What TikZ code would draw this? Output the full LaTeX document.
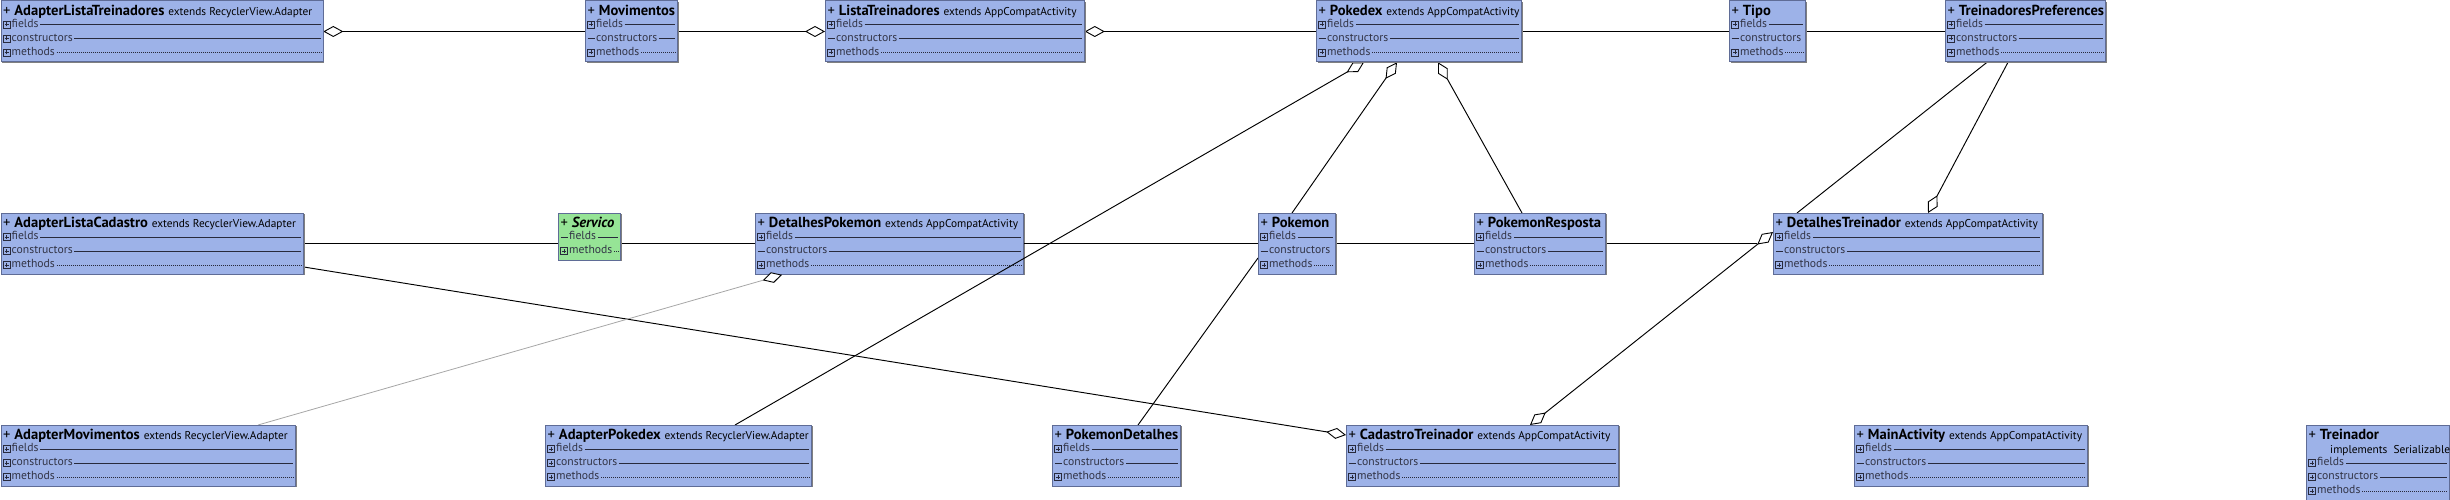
\documentclass[tikz,border=0pt]{standalone}
\usepackage{fontspec}
\setmainfont{PT Sans}
\usetikzlibrary{arrows.meta,calc}
\pgfdeclarelayer{bg}
\pgfdeclarelayer{fg}
\pgfsetlayers{bg,main,fg}
\definecolor{boxblue}{RGB}{157,178,232}
\definecolor{boxgreen}{RGB}{150,228,150}
\definecolor{boxedge}{RGB}{95,108,150}
\definecolor{rowtxt}{RGB}{50,52,70}
\definecolor{rowln}{RGB}{40,42,60}
\newlength\calw
% calibrate a font size so that a sample text gets a given width (px = pt)
\newcommand\calsize[4]{\setbox0=\hbox{#2\fontsize{10}{12}\selectfont #3}\calw=\wd0\relax\pgfmathsetmacro#1{10*#4/\calw}}
\newcommand\extf{\fontsize{\szE}{\szE}\selectfont}
\tikzset{
  classbox/.style={draw=boxedge, line width=0.8pt, inner sep=0pt, anchor=north west},
  shadowbox/.style={fill=black!50, inner sep=0pt, anchor=north west},
  rowtext/.style={anchor=west, inner sep=0pt, text height=6pt, text depth=0pt, font=\fontsize{\szR}{\szR}\selectfont, text=rowtxt},
  titletext/.style={anchor=base west, inner sep=0pt, font=\fontsize{\szT}{\szT}\selectfont},
  rowline/.style={draw=rowln, line width=0.6pt},
  dotline/.style={draw=rowln, line width=0.6pt, dash pattern=on 0.7pt off 1.3pt},
  iconln/.style={draw=rowln, line width=0.6pt},
  assoc/.style={draw=black, line width=1.1pt},
  assocthin/.style={draw=black, line width=0.95pt},
  grayline/.style={draw=black!35, line width=0.8pt},
  dtip/.tip={Diamond[fill=white,length=20pt,width=11pt,line width=0.9pt]},
  gtip/.tip={Diamond[color=black,fill=white,length=20pt,width=11pt,line width=0.9pt]},
}
% name, x, Y(top), width, height, fill, title
\newcommand\umlcls[7]{%
  \node[shadowbox, minimum width=#4pt, minimum height=#5pt] at (#2+1.3,#3-1.3) {};
  \node[classbox, fill=#6, minimum width=#4pt, minimum height=#5pt] (#1) at (#2,#3) {};
  \node[titletext] at ($(#1.north west)+(2.5,-15)$) {#7};
}
% row with expand icon: box, offset, label, line style
\newcommand\prow[4]{%
  \draw[iconln] ($(#1.north west)+(2.5,-#2-3.5)$) rectangle ++(7,7);
  \draw[iconln] ($(#1.north west)+(4,-#2)$) -- ++(4,0) ($(#1.north west)+(6,-#2-2)$) -- ++(0,4);
  \node[rowtext] (rt) at ($(#1.north west)+(11,-#2)$) {#3};
  \draw[#4] ($(rt.east)+(1.5,0)$) -- ($(#1.north east)+(-2.5,-#2)$);
}
% row with leading dash (empty compartment)
\newcommand\drow[4]{%
  \draw[rowline] ($(#1.north west)+(2.5,-#2)$) -- ++(7.5,0);
  \node[rowtext] (rt) at ($(#1.north west)+(11,-#2)$) {#3};
  \draw[#4] ($(rt.east)+(1.5,0)$) -- ($(#1.north east)+(-2.5,-#2)$);
}
\begin{document}
\calsize{\szT}{\bfseries}{AdapterListaTreinadores}{150}%
\calsize{\szE}{}{extends RecyclerView.Adapter}{144}%
\calsize{\szR}{}{constructors}{61}%
\begin{tikzpicture}[x=1pt,y=1pt]
\useasboundingbox (0,0) rectangle (2450,500);

\begin{pgfonlayer}{bg}
\umlcls{dp}{755}{287}{268}{61}{boxblue}{+ \textbf{DetalhesPokemon} {\extf extends AppCompatActivity}}
\prow{dp}{24}{fields}{rowline}
\drow{dp}{38}{constructors}{rowline}
\prow{dp}{52}{methods}{dotline}
\end{pgfonlayer}

\begin{pgfonlayer}{fg}
% top row
\umlcls{alt}{0.5}{499.5}{322}{61}{boxblue}{+ \textbf{AdapterListaTreinadores} {\extf extends RecyclerView.Adapter}}
\prow{alt}{24}{fields}{rowline}
\prow{alt}{38}{constructors}{rowline}
\prow{alt}{52}{methods}{dotline}

\umlcls{mov}{585}{499.5}{92}{61}{boxblue}{+ \textbf{Movimentos}}
\prow{mov}{24}{fields}{rowline}
\drow{mov}{38}{constructors}{rowline}
\prow{mov}{52}{methods}{dotline}

\umlcls{lt}{825}{499.5}{259}{61}{boxblue}{+ \textbf{ListaTreinadores} {\extf extends AppCompatActivity}}
\prow{lt}{24}{fields}{rowline}
\drow{lt}{38}{constructors}{rowline}
\prow{lt}{52}{methods}{dotline}

\umlcls{pdx}{1316}{499.5}{205}{61}{boxblue}{+ \textbf{Pokedex} {\extf extends AppCompatActivity}}
\prow{pdx}{24}{fields}{rowline}
\drow{pdx}{38}{constructors}{rowline}
\prow{pdx}{52}{methods}{dotline}

\umlcls{tipo}{1729}{499.5}{76}{61}{boxblue}{+ \textbf{Tipo}}
\prow{tipo}{24}{fields}{rowline}
\drow{tipo}{38}{constructors}{draw=none}
\prow{tipo}{52}{methods}{dotline}

\umlcls{tp}{1945}{499.5}{160}{61}{boxblue}{+ \textbf{TreinadoresPreferences}}
\prow{tp}{24}{fields}{rowline}
\prow{tp}{38}{constructors}{rowline}
\prow{tp}{52}{methods}{dotline}

% middle row
\umlcls{alc}{0.5}{287}{302.5}{61}{boxblue}{+ \textbf{AdapterListaCadastro} {\extf extends RecyclerView.Adapter}}
\prow{alc}{24}{fields}{rowline}
\prow{alc}{38}{constructors}{rowline}
\prow{alc}{52}{methods}{dotline}

\umlcls{srv}{558}{287}{62}{47}{boxgreen}{+ \textbf{\textit{Servico}}}
\drow{srv}{24}{fields}{rowline}
\prow{srv}{38}{methods}{dotline}

\umlcls{pkm}{1258}{287}{77}{61}{boxblue}{+ \textbf{Pokemon}}
\prow{pkm}{24}{fields}{rowline}
\drow{pkm}{38}{constructors}{draw=none}
\prow{pkm}{52}{methods}{dotline}

\umlcls{pr}{1474}{287}{131}{61}{boxblue}{+ \textbf{PokemonResposta}}
\prow{pr}{24}{fields}{rowline}
\drow{pr}{38}{constructors}{rowline}
\prow{pr}{52}{methods}{dotline}

\umlcls{dt}{1773}{287}{269}{61}{boxblue}{+ \textbf{DetalhesTreinador} {\extf extends AppCompatActivity}}
\prow{dt}{24}{fields}{rowline}
\drow{dt}{38}{constructors}{rowline}
\prow{dt}{52}{methods}{dotline}

% bottom row
\umlcls{am}{0.5}{75}{294.5}{61}{boxblue}{+ \textbf{AdapterMovimentos} {\extf extends RecyclerView.Adapter}}
\prow{am}{24}{fields}{rowline}
\prow{am}{38}{constructors}{rowline}
\prow{am}{52}{methods}{dotline}

\umlcls{ap}{545}{75}{266}{61}{boxblue}{+ \textbf{AdapterPokedex} {\extf extends RecyclerView.Adapter}}
\prow{ap}{24}{fields}{rowline}
\prow{ap}{38}{constructors}{rowline}
\prow{ap}{52}{methods}{dotline}

\umlcls{pd}{1052}{75}{128}{61}{boxblue}{+ \textbf{PokemonDetalhes}}
\prow{pd}{24}{fields}{rowline}
\drow{pd}{38}{constructors}{rowline}
\prow{pd}{52}{methods}{dotline}

\umlcls{ct}{1346}{75}{272}{61}{boxblue}{+ \textbf{CadastroTreinador} {\extf extends AppCompatActivity}}
\prow{ct}{24}{fields}{rowline}
\drow{ct}{38}{constructors}{rowline}
\prow{ct}{52}{methods}{dotline}

\umlcls{ma}{1854}{75}{233}{61}{boxblue}{+ \textbf{MainActivity} {\extf extends AppCompatActivity}}
\prow{ma}{24}{fields}{rowline}
\drow{ma}{38}{constructors}{rowline}
\prow{ma}{52}{methods}{dotline}

\umlcls{tr}{2306}{75}{143}{78}{boxblue}{+ \textbf{Treinador}}
\node[anchor=base west, inner sep=0pt] at ($(tr.north west)+(24,-28.5)$) {\extf implements\ \ Serializable};
\prow{tr}{38}{fields}{rowline}
\prow{tr}{52}{constructors}{rowline}
\prow{tr}{66}{methods}{dotline}
\end{pgfonlayer}

% connectors
\draw[assoc, dtip-] ($(alt.north east)+(0,-31)$) -- ($(mov.north west)+(0,-31)$);
\draw[assoc, -dtip] ($(mov.north east)+(0,-31)$) -- ($(lt.north west)+(0,-31)$);
\draw[assoc, dtip-] ($(lt.north east)+(0,-31)$) -- ($(pdx.north west)+(0,-31)$);
\draw[assoc] ($(pdx.north east)+(0,-31)$) -- ($(tipo.north west)+(0,-31)$);
\draw[assoc] ($(tipo.north east)+(0,-31)$) -- ($(tp.north west)+(0,-31)$);
\draw[assoc] ($(alc.north east)+(0,-30.5)$) -- ($(srv.north west)+(0,-30.5)$);
\draw[assoc] ($(srv.north east)+(0,-30.5)$) -- ($(dp.north west)+(0,-30.5)$);
\draw[assoc] ($(dp.north east)+(0,-30.5)$) -- ($(pkm.north west)+(0,-30.5)$);
\draw[assoc] ($(pkm.north east)+(0,-30.5)$) -- ($(pr.north west)+(0,-30.5)$);
\coordinate (dtend) at ($(dt.north west)+(-16,-30.5)$);
\draw[assoc] ($(pr.north east)+(0,-30.5)$) -- (dtend);
\draw[assocthin, dtip-] ($(pdx.south west)+(48,0)$) -- ($(ap.north west)+(190,0)$);
\draw[assocthin, dtip-] ($(pdx.south west)+(81,0)$) -- ($(pkm.north west)+(34,0)$);
\draw[assocthin, dtip-] ($(pdx.south west)+(122,0)$) -- ($(pr.north west)+(48,0)$);
\draw[assocthin] ($(pkm.north west)+(0,-45)$) -- ($(pd.north west)+(86,0)$);
\draw[assocthin, -dtip] ($(alc.north east)+(0,-54)$) -- ($(ct.north west)+(0,-10)$);
\draw[grayline, -gtip] ($(am.north west)+(257.5,0)$) -- ($(dp.south west)+(27,0)$);
\draw[assocthin, dtip-dtip] ($(ct.north west)+(184,0)$) -- ($(dt.north west)+(0,-19)$);
\draw[assocthin] ($(tp.south west)+(42,0)$) -- ($(dt.north west)+(24,0)$);
\draw[assocthin, -dtip] ($(tp.south west)+(63,0)$) -- ($(dt.north west)+(155,0)$);
\end{tikzpicture}
\end{document}
